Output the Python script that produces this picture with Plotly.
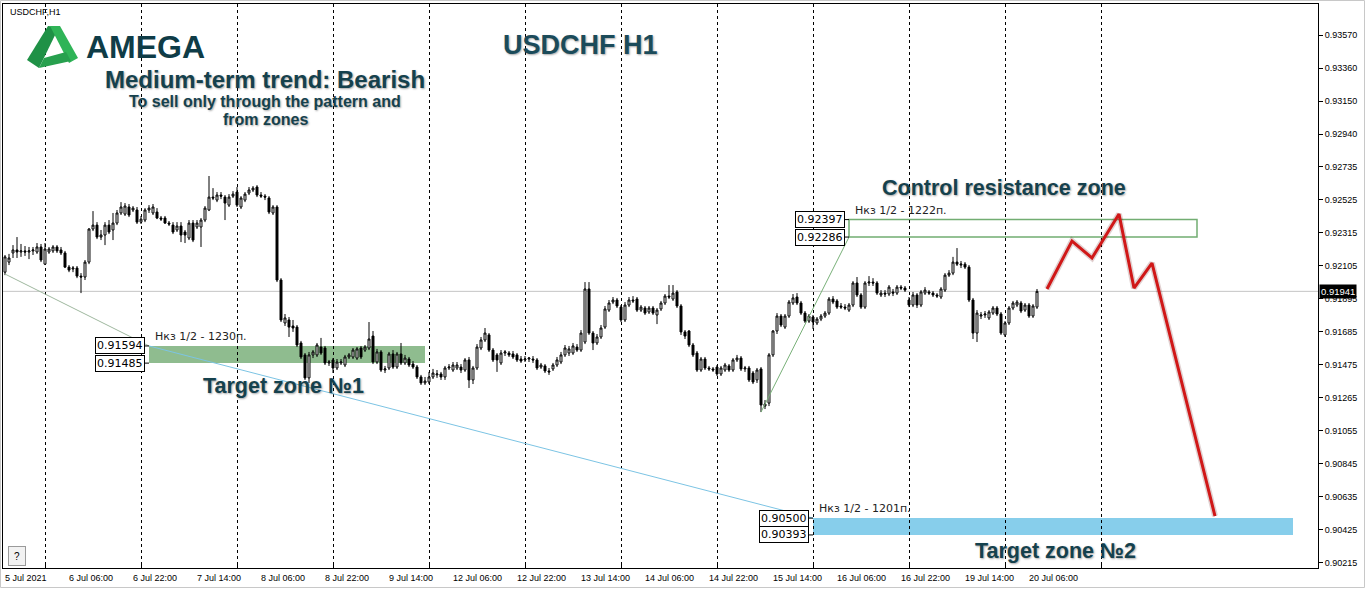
import pandas as pd
import plotly.graph_objects as go

# ---------------- data (USDCHF H1) ----------------
opens = [0.92063,0.92127,0.92185,0.92204,0.92191,0.92198,0.92191,0.92198,0.92191,0.92223,
 0.92114,0.92191,0.92198,0.92223,0.92204,0.92185,0.92095,0.92083,0.92089,0.92038,
 0.92032,0.92127,0.92337,0.92362,0.92286,0.92299,0.92362,0.92331,0.92375,0.92439,
 0.92432,0.92477,0.92458,0.92458,0.92381,0.92394,0.92458,0.92439,0.92445,0.92407,
 0.92407,0.92375,0.92362,0.92331,0.92356,0.92318,0.92280,0.92375,0.92350,0.92350,
 0.92394,0.92458,0.92540,0.92521,0.92553,0.92540,0.92489,0.92546,0.92572,0.92477,
 0.92521,0.92566,0.92585,0.92604,0.92553,0.92546,0.92534,0.92439,0.92477,0.92013,
 0.91740,0.91759,0.91721,0.91714,0.91613,0.91537,0.91391,0.91537,0.91537,0.91587,
 0.91581,0.91486,0.91505,0.91454,0.91486,0.91473,0.91524,0.91524,0.91517,0.91581,
 0.91568,0.91581,0.91657,0.91492,0.91556,0.91441,0.91454,0.91543,0.91460,0.91543,
 0.91486,0.91511,0.91479,0.91460,0.91397,0.91359,0.91365,0.91397,0.91410,0.91416,
 0.91397,0.91454,0.91441,0.91454,0.91460,0.91441,0.91505,0.91378,0.91454,0.91581,
 0.91632,0.91664,0.91568,0.91537,0.91486,0.91549,0.91549,0.91543,0.91537,0.91511,
 0.91505,0.91511,0.91511,0.91505,0.91460,0.91467,0.91435,0.91448,0.91473,0.91492,
 0.91537,0.91549,0.91549,0.91587,0.91568,0.91619,0.91956,0.91676,0.91613,0.91651,
 0.91714,0.91822,0.91873,0.91886,0.91841,0.91759,0.91854,0.91886,0.91892,0.91822,
 0.91835,0.91810,0.91835,0.91791,0.91829,0.91867,0.91911,0.91892,0.91937,0.91848,
 0.91683,0.91689,0.91600,0.91549,0.91441,0.91511,0.91454,0.91448,0.91460,0.91416,
 0.91441,0.91467,0.91441,0.91505,0.91517,0.91448,0.91454,0.91422,0.91378,0.91448,
 0.91212,0.91231,0.91537,0.91689,0.91784,0.91714,0.91784,0.91867,0.91905,0.91867,
 0.91803,0.91752,0.91778,0.91740,0.91765,0.91784,0.91803,0.91892,0.91880,0.91848,
 0.91841,0.91822,0.91854,0.91994,0.91918,0.91841,0.91994,0.92000,0.91994,0.91918,
 0.91930,0.91924,0.91937,0.91930,0.91968,0.91962,0.91886,0.91854,0.91918,0.91854,
 0.91930,0.91937,0.91930,0.91918,0.91905,0.91949,0.92044,0.92057,0.92127,0.92108,
 0.92114,0.92095,0.91886,0.91676,0.91784,0.91791,0.91772,0.91803,0.91835,0.91797,
 0.91664,0.91740,0.91835,0.91854,0.91867,0.91822,0.91854,0.91784,0.91841]

highs = [0.92172,0.92179,0.92235,0.92286,0.92242,0.92229,0.92223,0.92223,0.92248,0.92242,
 0.92248,0.92223,0.92235,0.92235,0.92223,0.92198,0.92108,0.92102,0.92102,0.92057,
 0.92140,0.92343,0.92451,0.92381,0.92331,0.92381,0.92394,0.92439,0.92458,0.92508,
 0.92502,0.92496,0.92483,0.92477,0.92420,0.92470,0.92489,0.92496,0.92470,0.92420,
 0.92420,0.92388,0.92381,0.92381,0.92381,0.92331,0.92394,0.92394,0.92394,0.92407,
 0.92483,0.92674,0.92597,0.92572,0.92572,0.92553,0.92559,0.92578,0.92604,0.92546,
 0.92572,0.92604,0.92610,0.92616,0.92572,0.92559,0.92546,0.92489,0.92489,0.92025,
 0.91797,0.91778,0.91759,0.91727,0.91626,0.91549,0.91556,0.91568,0.91613,0.91645,
 0.91594,0.91505,0.91517,0.91511,0.91511,0.91537,0.91549,0.91581,0.91587,0.91594,
 0.91600,0.91746,0.91689,0.91575,0.91568,0.91467,0.91556,0.91568,0.91556,0.91613,
 0.91537,0.91524,0.91498,0.91473,0.91410,0.91397,0.91429,0.91448,0.91441,0.91429,
 0.91467,0.91479,0.91492,0.91492,0.91479,0.91517,0.91524,0.91467,0.91606,0.91651,
 0.91708,0.91676,0.91581,0.91549,0.91568,0.91568,0.91562,0.91562,0.91549,0.91530,
 0.91530,0.91524,0.91530,0.91517,0.91486,0.91479,0.91454,0.91486,0.91524,0.91556,
 0.91600,0.91594,0.91613,0.91606,0.91695,0.92000,0.92000,0.91689,0.91670,0.91727,
 0.91848,0.91886,0.91905,0.91899,0.91854,0.91873,0.91905,0.91911,0.91905,0.91854,
 0.91848,0.91848,0.91848,0.91835,0.91880,0.91924,0.91981,0.91981,0.91949,0.91860,
 0.91695,0.91695,0.91613,0.91562,0.91524,0.91524,0.91467,0.91460,0.91473,0.91467,
 0.91486,0.91479,0.91517,0.91537,0.91530,0.91467,0.91467,0.91435,0.91454,0.91460,
 0.91250,0.91549,0.91695,0.91803,0.91797,0.91797,0.91886,0.91924,0.91930,0.91880,
 0.91816,0.91797,0.91791,0.91778,0.91797,0.91816,0.91905,0.91911,0.91892,0.91867,
 0.91860,0.91867,0.92006,0.92032,0.91930,0.92006,0.92038,0.92025,0.92006,0.91949,
 0.91949,0.91981,0.91956,0.91981,0.91981,0.91975,0.91905,0.91937,0.91930,0.91949,
 0.91968,0.91949,0.91943,0.91930,0.91968,0.92057,0.92076,0.92160,0.92216,0.92134,
 0.92127,0.92108,0.91899,0.91822,0.91810,0.91816,0.91822,0.91848,0.91848,0.91810,
 0.91752,0.91848,0.91880,0.91886,0.91880,0.91867,0.91867,0.91860,0.91956]

lows = [0.92044,0.92108,0.92153,0.92153,0.92160,0.92166,0.92146,0.92172,0.92179,0.92127,
 0.92108,0.92179,0.92185,0.92185,0.92172,0.92089,0.92063,0.92063,0.92025,0.91930,
 0.92013,0.92114,0.92324,0.92273,0.92267,0.92235,0.92305,0.92267,0.92362,0.92426,
 0.92420,0.92413,0.92445,0.92369,0.92369,0.92381,0.92439,0.92426,0.92400,0.92388,
 0.92369,0.92356,0.92305,0.92318,0.92254,0.92248,0.92267,0.92254,0.92337,0.92223,
 0.92381,0.92451,0.92521,0.92508,0.92527,0.92394,0.92477,0.92534,0.92477,0.92464,
 0.92508,0.92553,0.92572,0.92540,0.92534,0.92521,0.92432,0.92426,0.92000,0.91746,
 0.91721,0.91651,0.91683,0.91587,0.91511,0.91378,0.91359,0.91517,0.91524,0.91537,
 0.91473,0.91467,0.91422,0.91441,0.91473,0.91460,0.91511,0.91511,0.91505,0.91511,
 0.91556,0.91568,0.91479,0.91479,0.91429,0.91422,0.91441,0.91448,0.91448,0.91473,
 0.91473,0.91460,0.91448,0.91384,0.91346,0.91346,0.91352,0.91384,0.91391,0.91378,
 0.91378,0.91441,0.91429,0.91441,0.91422,0.91429,0.91327,0.91352,0.91441,0.91568,
 0.91619,0.91556,0.91492,0.91429,0.91473,0.91530,0.91524,0.91511,0.91492,0.91486,
 0.91492,0.91492,0.91486,0.91441,0.91448,0.91422,0.91410,0.91435,0.91460,0.91479,
 0.91524,0.91530,0.91537,0.91556,0.91556,0.91606,0.91664,0.91568,0.91600,0.91638,
 0.91702,0.91810,0.91860,0.91835,0.91746,0.91746,0.91841,0.91867,0.91810,0.91810,
 0.91791,0.91797,0.91791,0.91733,0.91816,0.91854,0.91892,0.91880,0.91835,0.91664,
 0.91638,0.91587,0.91524,0.91429,0.91429,0.91441,0.91435,0.91429,0.91403,0.91403,
 0.91429,0.91429,0.91429,0.91492,0.91435,0.91429,0.91365,0.91352,0.91359,0.91174,
 0.91193,0.91212,0.91524,0.91670,0.91714,0.91702,0.91772,0.91854,0.91854,0.91791,
 0.91740,0.91740,0.91702,0.91727,0.91752,0.91772,0.91791,0.91860,0.91829,0.91829,
 0.91822,0.91810,0.91841,0.91905,0.91829,0.91829,0.91975,0.91975,0.91918,0.91905,
 0.91905,0.91911,0.91911,0.91918,0.91949,0.91937,0.91841,0.91841,0.91835,0.91841,
 0.91918,0.91918,0.91905,0.91899,0.91892,0.91937,0.92032,0.92044,0.92102,0.92089,
 0.92083,0.91873,0.91638,0.91619,0.91765,0.91772,0.91759,0.91791,0.91784,0.91664,
 0.91651,0.91727,0.91822,0.91841,0.91803,0.91810,0.91772,0.91772,0.91829]

closes = [0.92160,0.92153,0.92204,0.92191,0.92198,0.92191,0.92198,0.92204,0.92223,0.92140,
 0.92210,0.92210,0.92223,0.92198,0.92185,0.92095,0.92076,0.92089,0.92038,0.92032,
 0.92127,0.92337,0.92362,0.92286,0.92299,0.92362,0.92318,0.92375,0.92439,0.92477,
 0.92483,0.92426,0.92470,0.92381,0.92400,0.92458,0.92470,0.92477,0.92407,0.92400,
 0.92375,0.92369,0.92318,0.92356,0.92299,0.92299,0.92375,0.92267,0.92375,0.92394,
 0.92470,0.92540,0.92534,0.92553,0.92546,0.92502,0.92540,0.92559,0.92489,0.92534,
 0.92559,0.92585,0.92597,0.92553,0.92546,0.92540,0.92445,0.92477,0.92013,0.91759,
 0.91772,0.91714,0.91708,0.91600,0.91524,0.91391,0.91537,0.91556,0.91600,0.91549,
 0.91486,0.91492,0.91454,0.91492,0.91492,0.91524,0.91537,0.91568,0.91575,0.91524,
 0.91587,0.91638,0.91492,0.91556,0.91441,0.91448,0.91543,0.91460,0.91543,0.91486,
 0.91517,0.91473,0.91460,0.91397,0.91359,0.91371,0.91397,0.91422,0.91416,0.91397,
 0.91454,0.91460,0.91473,0.91473,0.91441,0.91505,0.91378,0.91454,0.91587,0.91632,
 0.91676,0.91568,0.91505,0.91505,0.91549,0.91556,0.91537,0.91524,0.91505,0.91498,
 0.91511,0.91517,0.91505,0.91454,0.91473,0.91435,0.91429,0.91473,0.91505,0.91537,
 0.91581,0.91575,0.91594,0.91568,0.91676,0.91956,0.91676,0.91613,0.91651,0.91708,
 0.91829,0.91867,0.91886,0.91848,0.91759,0.91854,0.91886,0.91880,0.91822,0.91841,
 0.91803,0.91835,0.91803,0.91822,0.91867,0.91911,0.91905,0.91930,0.91848,0.91683,
 0.91657,0.91600,0.91537,0.91441,0.91511,0.91454,0.91448,0.91441,0.91416,0.91454,
 0.91473,0.91441,0.91505,0.91517,0.91448,0.91454,0.91378,0.91365,0.91441,0.91219,
 0.91225,0.91537,0.91689,0.91784,0.91727,0.91784,0.91873,0.91899,0.91867,0.91803,
 0.91752,0.91784,0.91746,0.91765,0.91784,0.91803,0.91892,0.91873,0.91841,0.91841,
 0.91835,0.91854,0.91994,0.91918,0.91841,0.91994,0.92000,0.91994,0.91930,0.91930,
 0.91924,0.91968,0.91930,0.91968,0.91962,0.91949,0.91854,0.91918,0.91854,0.91937,
 0.91949,0.91930,0.91918,0.91911,0.91956,0.92044,0.92057,0.92127,0.92114,0.92114,
 0.92095,0.91886,0.91676,0.91803,0.91791,0.91797,0.91810,0.91835,0.91797,0.91676,
 0.91740,0.91835,0.91867,0.91873,0.91816,0.91854,0.91784,0.91848,0.91941]

first_bar = "2021-07-05 14:00"
axis_end = "2021-07-23 23:00"

label_times = ["2021-07-05 14:00", "2021-07-06 06:00", "2021-07-06 22:00", "2021-07-07 14:00",
               "2021-07-08 06:00", "2021-07-08 22:00", "2021-07-09 14:00", "2021-07-12 06:00",
               "2021-07-12 22:00", "2021-07-13 14:00", "2021-07-14 06:00", "2021-07-14 22:00",
               "2021-07-15 14:00", "2021-07-16 06:00", "2021-07-16 22:00", "2021-07-19 14:00",
               "2021-07-20 06:00"]
label_texts = ["5 Jul 2021", "6 Jul 06:00", "6 Jul 22:00", "7 Jul 14:00", "8 Jul 06:00",
               "8 Jul 22:00", "9 Jul 14:00", "12 Jul 06:00", "12 Jul 22:00", "13 Jul 14:00",
               "14 Jul 06:00", "14 Jul 22:00", "15 Jul 14:00", "16 Jul 06:00", "16 Jul 22:00",
               "19 Jul 14:00", "20 Jul 06:00"]
grid_days = ["2021-07-06", "2021-07-07", "2021-07-08", "2021-07-09", "2021-07-12", "2021-07-13",
             "2021-07-14", "2021-07-15", "2021-07-16", "2021-07-19", "2021-07-20", "2021-07-21"]

price_ticks = [0.93570, 0.93360, 0.93150, 0.92940, 0.92735, 0.92525, 0.92315, 0.92105, 0.91895,
               0.91685, 0.91475, 0.91265, 0.91055, 0.90845, 0.90635, 0.90425, 0.90215]
price_range = [0.90183, 0.93767]
last_price = 0.91941

# zones: start, end, low, high, note
zone1 = ["2021-07-07 02:00", "2021-07-09 23:00", 0.91485, 0.91594, "Нкз 1/2 - 1230п."]
zone_res = ["2021-07-16 09:00", "2021-07-22 00:00", 0.92286, 0.92397, "Нкз 1/2 - 1222п."]
zone2 = ["2021-07-16 00:00", "2021-07-23 00:00", 0.90393, 0.90500, "Нкз 1/2 - 1201п."]

# thin trend lines (time, price) pairs
line_a = [("2021-07-05 14:00", 0.92051), ("2021-07-07 02:00", 0.91594)]
line_b = [("2021-07-07 02:00", 0.91594), ("2021-07-16 00:00", 0.90500)]
line_c = [("2021-07-15 11:00", 0.91174), ("2021-07-16 09:00", 0.92286)]

# projected path (red)
proj_times = ["2021-07-20 10:30", "2021-07-20 16:45", "2021-07-20 21:45", "2021-07-21 04:30",
              "2021-07-21 08:15", "2021-07-21 12:45", "2021-07-22 04:30"]
proj_prices = [0.91956, 0.92261, 0.92153, 0.92432, 0.91962, 0.92121, 0.90513]

# ---------------- helpers ----------------
times_all = [t for t in pd.date_range(first_bar, axis_end, freq="h") if t.weekday() < 5]
pos = {t: i for i, t in enumerate(times_all)}


def bp(ts):
    t = pd.Timestamp(ts)
    base = t.floor("h")
    return pos[base] + (t - base).total_seconds() / 3600.0


bar_x = list(range(len(opens)))

W, H = 1366, 589
ML, MR, MT, MB = 3, 48, 4, 21
PW, PH = W - ML - MR, H - MT - MB


def px(x):
    return (x - ML) / PW


def py(y):
    return (H - MB - y) / PH


TEAL = "#15414d"
SHADOW = "1px 1px 2px rgba(0,0,0,0.35)"

fig = go.Figure()

fig.add_trace(go.Candlestick(
    x=bar_x, open=opens, high=highs, low=lows, close=closes,
    increasing=dict(fillcolor="white", line=dict(color="black", width=1)),
    decreasing=dict(fillcolor="black", line=dict(color="black", width=1)),
    whiskerwidth=0, showlegend=False, hoverinfo="skip"))

for ln, col in [(line_a, "#9fb89f"), (line_b, "#7cc4e4"), (line_c, "#78b078")]:
    fig.add_trace(go.Scatter(x=[bp(t) for t, _ in ln], y=[p for _, p in ln], mode="lines",
                             line=dict(color=col, width=1), showlegend=False, hoverinfo="skip"))

proj_x = [bp(t) for t in proj_times]
fig.add_trace(go.Scatter(x=proj_x, y=proj_prices, mode="lines",
                         line=dict(color="rgba(90,0,0,0.18)", width=6), showlegend=False,
                         hoverinfo="skip"))
fig.add_trace(go.Scatter(x=proj_x, y=proj_prices, mode="lines",
                         line=dict(color="#d01818", width=3), showlegend=False, hoverinfo="skip"))

shapes = []
# current price line
shapes.append(dict(type="line", xref="paper", x0=0, x1=1, yref="y", y0=last_price, y1=last_price,
                   line=dict(color="#c4c4c4", width=1), layer="below"))
# zones
shapes.append(dict(type="rect", xref="x", yref="y", x0=bp(zone1[0]), x1=bp(zone1[1]), y0=zone1[2],
                   y1=zone1[3], fillcolor="#8fbc8f", line=dict(width=0), layer="below"))
shapes.append(dict(type="rect", xref="x", yref="y", x0=bp(zone2[0]), x1=bp(zone2[1]), y0=zone2[2],
                   y1=zone2[3], fillcolor="#87ceeb", line=dict(width=0), layer="below"))
shapes.append(dict(type="rect", xref="x", yref="y", x0=bp(zone_res[0]), x1=bp(zone_res[1]),
                   y0=zone_res[2], y1=zone_res[3], fillcolor="rgba(0,0,0,0)",
                   line=dict(color="#72ad72", width=1.5), layer="below"))

annotations = []
for z in (zone1, zone_res, zone2):
    xs = bp(z[0])
    for v in (z[3], z[2]):
        shapes.append(dict(type="line", xref="x", xsizemode="pixel", xanchor=xs, x0=-4, x1=0,
                           yref="y", y0=v, y1=v, line=dict(color="black", width=1)))
        annotations.append(dict(x=xs, y=v, xref="x", yref="y", text=f"{v:.5f}", showarrow=False,
                                xanchor="right", yanchor="middle", xshift=-4,
                                bgcolor="white", bordercolor="black", borderwidth=1, borderpad=1,
                                font=dict(family="DejaVu Sans", size=11, color="black")))
    annotations.append(dict(x=xs, y=z[3], xref="x", yref="y", text=z[4], showarrow=False,
                            xanchor="left", yanchor="bottom", xshift=4, yshift=1,
                            font=dict(family="DejaVu Sans", size=11, color="#222222")))

# x-axis labels (left aligned at their bar, as in the terminal)
for t, txt_ in zip(label_times, label_texts):
    annotations.append(dict(x=bp(t), y=py(578), xref="x", yref="paper", text=txt_, showarrow=False,
                            xanchor="left", yanchor="middle", xshift=-2,
                            font=dict(family="Liberation Sans", size=9, color="black")))

# last price tag
annotations.append(dict(x=1, y=last_price, xref="paper", yref="y", text=f"{last_price:.5f}",
                        showarrow=False, xanchor="left", yanchor="middle", xshift=1,
                        bgcolor="black", borderpad=1,
                        font=dict(family="Liberation Sans", size=9.5, color="white")))


# texts
def txt(x, y, s, size, color=TEAL, anchor="center", bold=True, shadow=SHADOW, family="Liberation Sans"):
    annotations.append(dict(x=px(x), y=py(y), xref="paper", yref="paper",
                            text=f"<b>{s}</b>" if bold else s, showarrow=False,
                            xanchor=anchor, yanchor="middle",
                            font=dict(family=family, size=size, color=color, shadow=shadow)))


txt(8, 12, "USDCHF,H1", 9, color="black", anchor="left", bold=False, shadow="none")
txt(84, 47, "AMEGA", 32, color="#0f3c47", anchor="left", shadow="none")
txt(580, 45, "USDCHF H1", 27, color="#1b4b5a")
txt(265, 80, "Medium-term trend: Bearish", 24)
txt(265, 101, "To sell only through the pattern and", 16)
txt(265, 119, "from zones", 16)
txt(1004, 188, "Control resistance zone", 21.5)
txt(283, 386, "Target zone №1", 21.5)
txt(1055, 551, "Target zone №2", 21.5)

# help button
annotations.append(dict(x=px(17), y=py(556), xref="paper", yref="paper", text="?", showarrow=False,
                        xanchor="center", yanchor="middle", width=14, height=16,
                        bgcolor="#f2f2f2", bordercolor="#9a9a9a", borderwidth=1,
                        font=dict(family="Liberation Sans", size=10, color="black")))


# logo (ribbon "A")
def path(pts):
    return "M " + " L ".join(f"{px(a):.5f},{py(b):.5f}" for a, b in pts) + " Z"


logo = [
    ([(27, 60), (48, 26), (59, 27), (39, 68)], "#1f9146"),
    ([(50, 26), (60, 26), (78, 58), (69, 63)], "#2fb457"),
    ([(39, 68), (44, 58), (66, 52), (71, 61)], "#27a04e"),
]
for pts, col in logo:
    shapes.append(dict(type="path", xref="paper", yref="paper", path=path(pts), fillcolor=col,
                       line=dict(width=0), layer="above"))

# window frame
shapes.append(dict(type="rect", xref="paper", yref="paper", x0=px(0.5), x1=px(1364.5), y0=py(587.5),
                   y1=py(0.5), line=dict(color="#c8c8c8", width=1), fillcolor="rgba(0,0,0,0)"))

fig.update_layout(
    width=W, height=H,
    margin=dict(l=ML, r=MR, t=MT, b=MB, autoexpand=False),
    paper_bgcolor="white", plot_bgcolor="white",
    showlegend=False,
    shapes=shapes, annotations=annotations,
    xaxis=dict(range=[-0.5, 328.25], tickvals=[bp(d + " 00:00") for d in grid_days],
               showticklabels=False, ticks="inside", ticklen=3, tickcolor="black",
               showgrid=True, gridcolor="black", griddash="3px,3px", gridwidth=1,
               showline=True, linecolor="black", linewidth=1, mirror=True, zeroline=False,
               rangeslider=dict(visible=False), fixedrange=True),
    yaxis=dict(side="right", range=price_range, tickvals=price_ticks,
               ticktext=[f"{v:.5f}" for v in price_ticks], ticks="outside", ticklen=4,
               tickcolor="black", showgrid=False, showline=True, linecolor="black", linewidth=1,
               mirror=True, zeroline=False, fixedrange=True,
               tickfont=dict(family="Liberation Sans", size=9, color="black")),
)

fig.write_html("out.html", config={"displayModeBar": False},
               post_script="document.body.style.margin='0px';document.body.style.overflow='hidden';")
